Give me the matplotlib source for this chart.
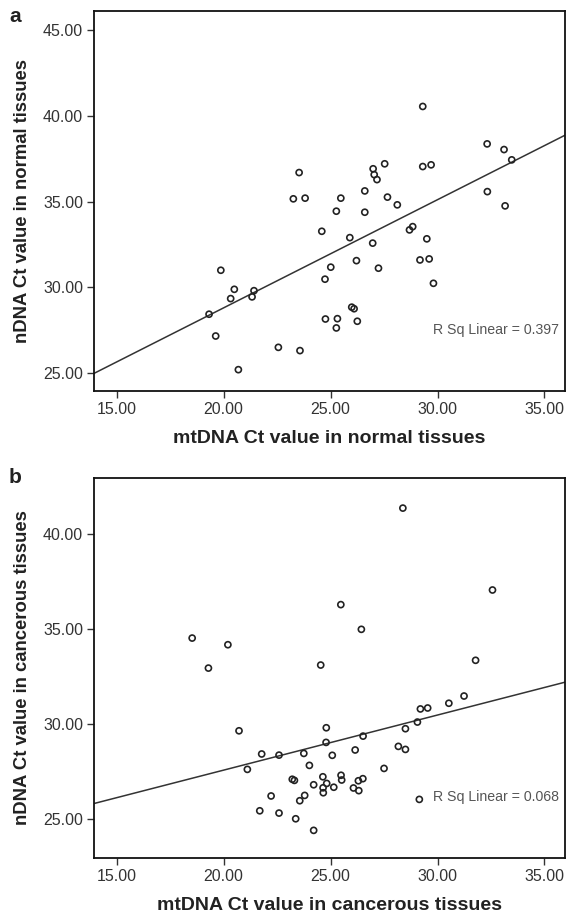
import matplotlib
matplotlib.use('Agg')
import matplotlib.pyplot as plt
import numpy as np

plt.rcParams['font.family'] = ['Liberation Sans', 'DejaVu Sans']

# Panel a: normal tissues
mt_normal = [29.31, 23.53, 23.26, 23.81, 25.48, 25.27, 26.60, 26.60, 26.99, 27.04,
             27.17, 24.59, 25.90, 27.53, 29.31, 29.70, 32.32, 33.11, 33.47, 32.33,
             33.16, 27.66, 28.12, 28.69, 28.84, 29.50, 26.97, 25.01, 26.21, 27.24,
             24.74, 19.87, 20.50, 20.33, 21.42, 21.33, 19.32, 19.63, 22.56, 23.57,
             20.69, 25.99, 26.10, 24.76, 25.32, 25.27, 26.25, 29.18, 29.61, 29.81]
n_normal = [40.54, 36.69, 35.16, 35.20, 35.20, 34.44, 35.62, 34.38, 36.91, 36.57,
            36.28, 33.27, 32.90, 37.20, 37.04, 37.14, 38.36, 38.03, 37.43, 35.58,
            34.75, 35.26, 34.81, 33.35, 33.54, 32.83, 32.58, 31.18, 31.56, 31.12,
            30.48, 31.00, 29.89, 29.35, 29.81, 29.45, 28.44, 27.17, 26.51, 26.32,
            25.21, 28.85, 28.76, 28.16, 28.18, 27.64, 28.03, 31.60, 31.66, 30.24]
fit_normal = (16.21, 0.63)   # intercept, slope
r2_normal = 0.397

# Panel b: cancerous tissues
mt_cancer = [28.38, 32.57, 25.48, 26.44, 18.53, 20.20, 19.29, 24.54, 31.78, 20.72,
             21.11, 21.78, 22.59, 23.75, 24.80, 24.79, 25.08, 24.01, 23.21, 23.31,
             24.64, 24.21, 24.82, 24.65, 24.66, 25.15, 22.22, 23.79, 23.56, 21.69,
             22.59, 23.37, 24.21, 31.24, 30.53, 29.20, 29.54, 29.06, 28.50, 26.52,
             26.15, 28.17, 28.50, 27.50, 25.49, 25.52, 26.51, 26.30, 26.07, 26.32,
             29.15]
n_cancer = [41.38, 37.07, 36.30, 35.00, 34.54, 34.19, 32.96, 33.12, 33.37, 29.66,
            27.63, 28.44, 28.38, 28.47, 29.82, 29.05, 28.37, 27.84, 27.11, 27.05,
            27.24, 26.82, 26.89, 26.66, 26.40, 26.69, 26.23, 26.26, 25.98, 25.45,
            25.33, 25.03, 24.42, 31.49, 31.11, 30.81, 30.86, 30.12, 29.77, 29.38,
            28.65, 28.84, 28.68, 27.68, 27.32, 27.07, 27.14, 27.03, 26.65, 26.51,
            26.05]
fit_cancer = (21.79, 0.29)
r2_cancer = 0.068

x_ticks = [15, 20, 25, 30, 35]
y_ticks_a = [25, 30, 35, 40, 45]
y_ticks_b = [25, 30, 35, 40]

W, H = 566, 916
fig = plt.figure(figsize=(W / 100, H / 100), dpi=100)

panels = [
    dict(rect=[94.2 / W, (H - 391.3) / H, 470.8 / W, 380.3 / H],
         x=mt_normal, y=n_normal, fit=fit_normal, r2=r2_normal, r2_y=330,
         yticks=y_ticks_a, ylim=(23.95, 46.1), letter='a', letter_y=22,
         xlabel='mtDNA Ct value in normal tissues',
         ylabel='nDNA Ct value in normal tissues'),
    dict(rect=[94.2 / W, (H - 858.3) / H, 470.8 / W, 380.6 / H],
         x=mt_cancer, y=n_cancer, fit=fit_cancer, r2=r2_cancer, r2_y=797,
         yticks=y_ticks_b, ylim=(22.95, 42.98), letter='b', letter_y=483,
         xlabel='mtDNA Ct value in cancerous tissues',
         ylabel='nDNA Ct value in cancerous tissues'),
]

for p in panels:
    ax = fig.add_axes(p['rect'])
    ax.scatter(p['x'], p['y'], s=19, facecolors='none', edgecolors='#222222',
               linewidths=1.2, zorder=3)
    ax.set_xlim(13.95, 35.96)
    ax.set_ylim(*p['ylim'])
    xs = np.array(ax.get_xlim())
    ax.plot(xs, p['fit'][0] + p['fit'][1] * xs, color='#333333', lw=1.1, zorder=2)

    ax.set_xticks(x_ticks)
    ax.set_yticks(p['yticks'])
    ax.set_xticklabels(['%.2f' % v for v in x_ticks])
    ax.set_yticklabels(['%.2f' % v for v in p['yticks']])
    ax.tick_params(direction='out', length=5, width=1, color='#333333',
                   labelsize=11.5, labelcolor='#333333', pad=3)
    for s in ax.spines.values():
        s.set_linewidth(1.3)
        s.set_color('#111111')

    ax.set_xlabel(p['xlabel'], fontsize=14, fontweight='bold', color='#222222')
    ax.set_ylabel(p['ylabel'], fontsize=13.3, fontweight='bold', color='#222222')
    ax.xaxis.set_label_coords(0.5, -0.123)
    ax.xaxis.label.set_va('center')
    ax.yaxis.set_label_coords(-0.153, 0.5)
    ax.yaxis.label.set_va('center')

    ax.text(433, H - p['r2_y'], 'R Sq Linear = %.3f' % p['r2'], transform=None,
            fontsize=10.2, color='#555555', va='center', ha='left')
    fig.text(9 / W, 1 - p['letter_y'] / H, p['letter'], fontsize=15,
             fontweight='bold', color='#222222', va='baseline')

fig.savefig('out.png', dpi=100)
